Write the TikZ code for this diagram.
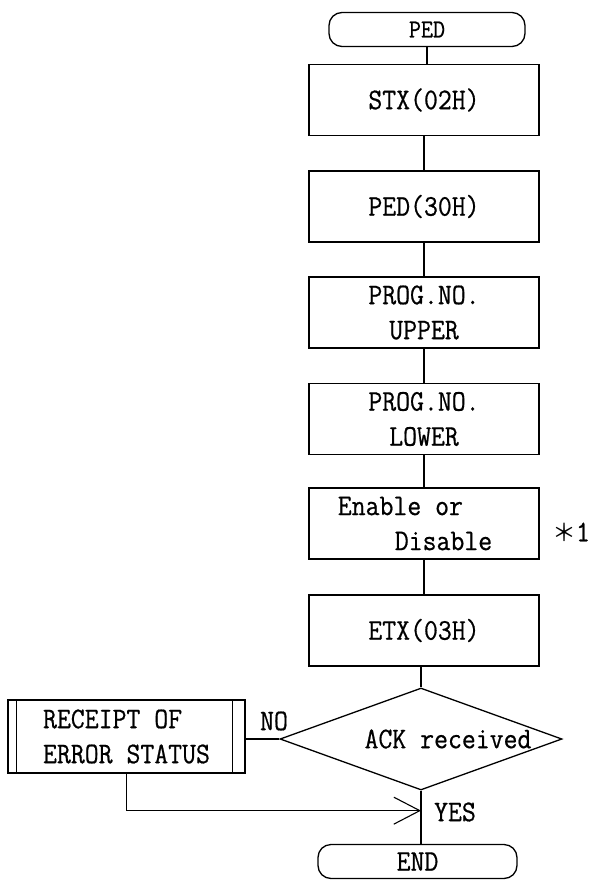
\documentclass[tikz,border=0pt]{standalone}
\usepackage{fontspec}
\setmonofont{Latin Modern Mono}[FakeStretch=0.9, FakeBold=0.6]
\newfontfamily\cjk{Noto Sans CJK JP}
\usetikzlibrary{arrows.meta,shapes.geometric}
\begin{document}
\begin{tikzpicture}[x=1pt,y=-1pt,
  box/.style={draw, line width=1.6pt, minimum width=230pt, minimum height=71pt, inner sep=0pt},
  term/.style={draw, line width=1.3pt, rounded corners=13pt, minimum height=34pt, inner sep=0pt},
  conn/.style={line width=1.1pt},
  lbl/.style={inner sep=0pt},
  font=\ttfamily\fontsize{30}{35}\selectfont]
\useasboundingbox (0,0) rectangle (597,881);

\node[term, minimum width=196pt, font=\ttfamily\fontsize{26}{30}\selectfont] (ped) at (427,29.5) {PED};
\node[box] (stx) at (424,100) {STX(02H)};
\node[box] (p30) at (424,206.5) {PED(30H)};
\node[box, align=center] (up) at (424,312.5) {PROG.NO.\\UPPER};
\node[box, align=center] (lo) at (424,419) {PROG.NO.\\LOWER};
\node[box, align=left] (en) at (424,523.5) {Enable or\\\hspace*{57pt}Disable\hspace*{18pt}};
\node[lbl] (n1) at (571,532) {{\cjk\fontsize{24}{24}\selectfont ＊}1};
\node[box] (etx) at (424,630.5) {ETX(03H)};
\node[diamond, draw, line width=1.3pt, minimum width=282pt, minimum height=102pt, inner sep=0pt] (dec) at (421,739) {};
\node[lbl] (ack) at (448,739) {ACK received};
\node[draw, line width=1.6pt, minimum width=237pt, minimum height=73pt, inner sep=0pt, align=left] (rec) at (126.5,736.5) {RECEIPT OF\\ERROR STATUS};
\draw[line width=1.2pt] ([xshift=9pt]rec.north west) -- ([xshift=9pt]rec.south west);
\draw[line width=1.2pt] ([xshift=-13pt]rec.north east) -- ([xshift=-13pt]rec.south east);
\node[lbl] (no) at (274,721) {NO};
\node[lbl] (yes) at (455,812) {YES};
\node[term, minimum width=199pt] (end) at (417.5,861.5) {END};

\draw[conn] (ped.south) -- (ped.south |- stx.north);
\draw[conn] (stx.south) -- (p30.north);
\draw[conn] (p30.south) -- (up.north);
\draw[conn] (up.south) -- (lo.north);
\draw[conn] (lo.south) -- (en.north);
\draw[conn] (en.south) -- (etx.north);
\draw[conn] (etx.south -| dec.north) -- (dec.north);
\draw[conn] (dec.south) -- (dec.south |- end.north);
\draw[conn] (dec.west) -- (dec.west -| rec.east);
\path (dec.south) ++(0,20) coordinate (m);
\draw[conn, -{Straight Barb[length=26pt,width=27pt]}] (rec.south) |- (m);
\end{tikzpicture}
\end{document}
